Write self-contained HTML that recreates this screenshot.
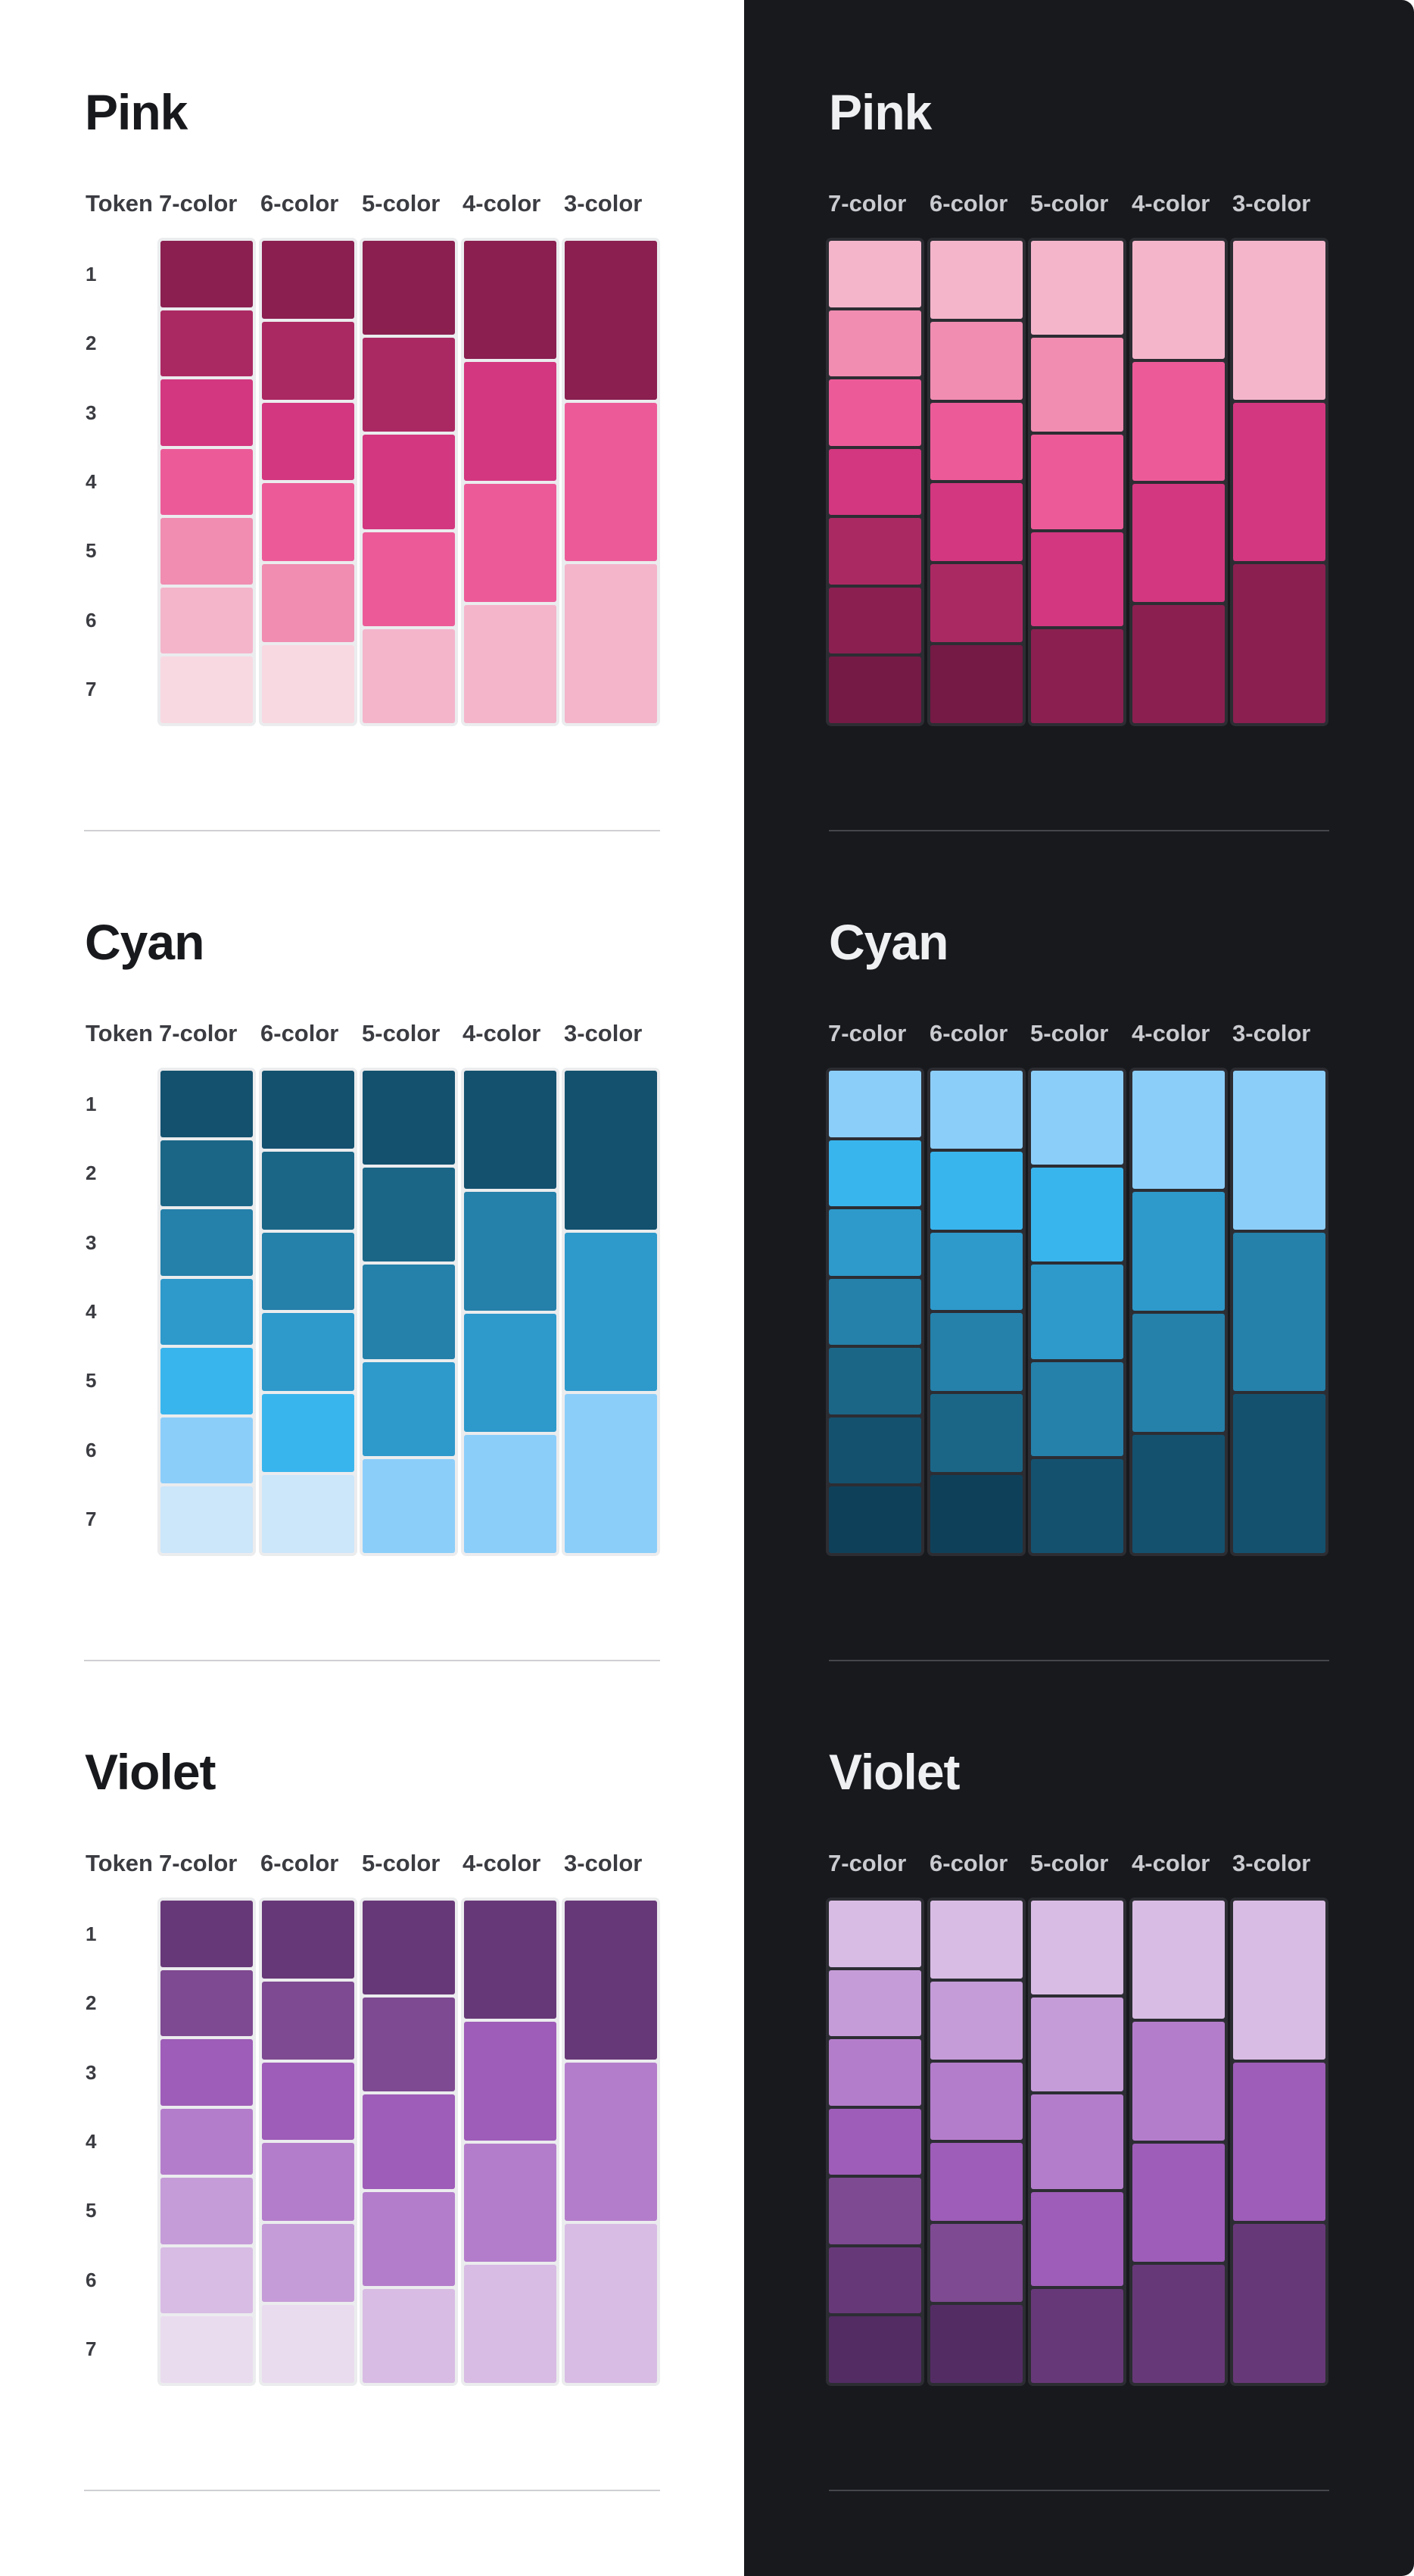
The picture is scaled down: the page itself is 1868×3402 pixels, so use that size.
<!DOCTYPE html>
<html><head><meta charset="utf-8">
<style>
*{margin:0;padding:0;box-sizing:border-box}
body{width:1868px;height:3402px;background:#fff;position:relative;overflow:hidden;font-family:"Liberation Sans",sans-serif;font-weight:bold}
.dark{position:absolute;left:983px;top:0;width:885px;height:3402px;background:#18191d;border-radius:0 16px 16px 0}
.sec{position:absolute;left:0;width:1868px;height:1096px}
.t{position:absolute;font-size:66px;line-height:66px;top:115px;letter-spacing:-1px}
.h{position:absolute;font-size:31px;line-height:31px;top:253px}
.grid{position:absolute;top:314px;height:645px;display:flex;gap:3.5px}
.col{width:130px;height:645px;padding:4px;display:flex;flex-direction:column;gap:4px;border-radius:7px}
.col div{flex:1;border-radius:3px}
.L .col{background:#ebecee}
.D .col{background:#2c2d33}
.L .t{color:#18191d;left:112px}
.D .t{color:#eff0f2;left:1095px}
.L .h{color:#3b3c42}
.D .h{color:#c9cbd0}
.L .grid{left:208px}
.D .grid{left:1091px}
.rl{position:absolute;left:113px;top:317px;height:639px;display:flex;flex-direction:column;color:#3b3c42;font-size:26px}
.rl span{flex:1;display:flex;align-items:center}
.div{position:absolute;top:1096px;height:2px}
.L .div{left:111px;width:761px;background:#cfd0d3}
.D .div{left:1095px;width:661px;background:#45464c}
</style></head><body>
<div class="dark"></div>

<!-- PINK -->
<div class="sec L" style="top:0">
<div class="t">Pink</div>
<div class="h" style="left:113px">Token</div><div class="h" style="left:210px">7-color</div><div class="h" style="left:344px">6-color</div><div class="h" style="left:478px">5-color</div><div class="h" style="left:611px">4-color</div><div class="h" style="left:745px">3-color</div>
<div class="rl"><span>1</span><span>2</span><span>3</span><span>4</span><span>5</span><span>6</span><span>7</span></div>
<div class="grid">
<div class="col"><div style="background:#8a1f50"></div><div style="background:#ab2963"></div><div style="background:#d3377f"></div><div style="background:#ec5b98"></div><div style="background:#f08db1"></div><div style="background:#f4b5cb"></div><div style="background:#f8d9e2"></div></div>
<div class="col"><div style="background:#8a1f50"></div><div style="background:#ab2963"></div><div style="background:#d3377f"></div><div style="background:#ec5b98"></div><div style="background:#f08db1"></div><div style="background:#f8d9e2"></div></div>
<div class="col"><div style="background:#8a1f50"></div><div style="background:#ab2963"></div><div style="background:#d3377f"></div><div style="background:#ec5b98"></div><div style="background:#f4b5cb"></div></div>
<div class="col"><div style="background:#8a1f50"></div><div style="background:#d3377f"></div><div style="background:#ec5b98"></div><div style="background:#f4b5cb"></div></div>
<div class="col"><div style="background:#8a1f50"></div><div style="background:#ec5b98"></div><div style="background:#f4b5cb"></div></div>
</div>
<div class="div"></div>
</div>
<div class="sec D" style="top:0">
<div class="t">Pink</div>
<div class="h" style="left:1094px">7-color</div><div class="h" style="left:1228px">6-color</div><div class="h" style="left:1361px">5-color</div><div class="h" style="left:1495px">4-color</div><div class="h" style="left:1628px">3-color</div>
<div class="grid">
<div class="col"><div style="background:#f4b5cb"></div><div style="background:#f08db1"></div><div style="background:#ec5b98"></div><div style="background:#d3377f"></div><div style="background:#ab2963"></div><div style="background:#8a1f50"></div><div style="background:#741a45"></div></div>
<div class="col"><div style="background:#f4b5cb"></div><div style="background:#f08db1"></div><div style="background:#ec5b98"></div><div style="background:#d3377f"></div><div style="background:#ab2963"></div><div style="background:#741a45"></div></div>
<div class="col"><div style="background:#f4b5cb"></div><div style="background:#f08db1"></div><div style="background:#ec5b98"></div><div style="background:#d3377f"></div><div style="background:#8a1f50"></div></div>
<div class="col"><div style="background:#f4b5cb"></div><div style="background:#ec5b98"></div><div style="background:#d3377f"></div><div style="background:#8a1f50"></div></div>
<div class="col"><div style="background:#f4b5cb"></div><div style="background:#d3377f"></div><div style="background:#8a1f50"></div></div>
</div>
<div class="div"></div>
</div>

<!-- CYAN -->
<div class="sec L" style="top:1096px">
<div class="t">Cyan</div>
<div class="h" style="left:113px">Token</div><div class="h" style="left:210px">7-color</div><div class="h" style="left:344px">6-color</div><div class="h" style="left:478px">5-color</div><div class="h" style="left:611px">4-color</div><div class="h" style="left:745px">3-color</div>
<div class="rl"><span>1</span><span>2</span><span>3</span><span>4</span><span>5</span><span>6</span><span>7</span></div>
<div class="grid">
<div class="col"><div style="background:#14516f"></div><div style="background:#1b6687"></div><div style="background:#2580aa"></div><div style="background:#2e99cb"></div><div style="background:#39b5ed"></div><div style="background:#8ccefa"></div><div style="background:#cce6fa"></div></div>
<div class="col"><div style="background:#14516f"></div><div style="background:#1b6687"></div><div style="background:#2580aa"></div><div style="background:#2e99cb"></div><div style="background:#39b5ed"></div><div style="background:#cce6fa"></div></div>
<div class="col"><div style="background:#14516f"></div><div style="background:#1b6687"></div><div style="background:#2580aa"></div><div style="background:#2e99cb"></div><div style="background:#8ccefa"></div></div>
<div class="col"><div style="background:#14516f"></div><div style="background:#2580aa"></div><div style="background:#2e99cb"></div><div style="background:#8ccefa"></div></div>
<div class="col"><div style="background:#14516f"></div><div style="background:#2e99cb"></div><div style="background:#8ccefa"></div></div>
</div>
<div class="div"></div>
</div>
<div class="sec D" style="top:1096px">
<div class="t">Cyan</div>
<div class="h" style="left:1094px">7-color</div><div class="h" style="left:1228px">6-color</div><div class="h" style="left:1361px">5-color</div><div class="h" style="left:1495px">4-color</div><div class="h" style="left:1628px">3-color</div>
<div class="grid">
<div class="col"><div style="background:#8ccefa"></div><div style="background:#39b5ed"></div><div style="background:#2e99cb"></div><div style="background:#2580aa"></div><div style="background:#1b6687"></div><div style="background:#14516f"></div><div style="background:#0f4059"></div></div>
<div class="col"><div style="background:#8ccefa"></div><div style="background:#39b5ed"></div><div style="background:#2e99cb"></div><div style="background:#2580aa"></div><div style="background:#1b6687"></div><div style="background:#0f4059"></div></div>
<div class="col"><div style="background:#8ccefa"></div><div style="background:#39b5ed"></div><div style="background:#2e99cb"></div><div style="background:#2580aa"></div><div style="background:#14516f"></div></div>
<div class="col"><div style="background:#8ccefa"></div><div style="background:#2e99cb"></div><div style="background:#2580aa"></div><div style="background:#14516f"></div></div>
<div class="col"><div style="background:#8ccefa"></div><div style="background:#2580aa"></div><div style="background:#14516f"></div></div>
</div>
<div class="div"></div>
</div>

<!-- VIOLET -->
<div class="sec L" style="top:2192px">
<div class="t">Violet</div>
<div class="h" style="left:113px">Token</div><div class="h" style="left:210px">7-color</div><div class="h" style="left:344px">6-color</div><div class="h" style="left:478px">5-color</div><div class="h" style="left:611px">4-color</div><div class="h" style="left:745px">3-color</div>
<div class="rl"><span>1</span><span>2</span><span>3</span><span>4</span><span>5</span><span>6</span><span>7</span></div>
<div class="grid">
<div class="col"><div style="background:#673878"></div><div style="background:#7e4a91"></div><div style="background:#9e5db8"></div><div style="background:#b47dcb"></div><div style="background:#c59cd8"></div><div style="background:#d8bce4"></div><div style="background:#eadcef"></div></div>
<div class="col"><div style="background:#673878"></div><div style="background:#7e4a91"></div><div style="background:#9e5db8"></div><div style="background:#b47dcb"></div><div style="background:#c59cd8"></div><div style="background:#eadcef"></div></div>
<div class="col"><div style="background:#673878"></div><div style="background:#7e4a91"></div><div style="background:#9e5db8"></div><div style="background:#b47dcb"></div><div style="background:#d8bce4"></div></div>
<div class="col"><div style="background:#673878"></div><div style="background:#9e5db8"></div><div style="background:#b47dcb"></div><div style="background:#d8bce4"></div></div>
<div class="col"><div style="background:#673878"></div><div style="background:#b47dcb"></div><div style="background:#d8bce4"></div></div>
</div>
<div class="div"></div>
</div>
<div class="sec D" style="top:2192px">
<div class="t">Violet</div>
<div class="h" style="left:1094px">7-color</div><div class="h" style="left:1228px">6-color</div><div class="h" style="left:1361px">5-color</div><div class="h" style="left:1495px">4-color</div><div class="h" style="left:1628px">3-color</div>
<div class="grid">
<div class="col"><div style="background:#d8bce4"></div><div style="background:#c59cd8"></div><div style="background:#b47dcb"></div><div style="background:#9e5db8"></div><div style="background:#7e4a91"></div><div style="background:#673878"></div><div style="background:#532c63"></div></div>
<div class="col"><div style="background:#d8bce4"></div><div style="background:#c59cd8"></div><div style="background:#b47dcb"></div><div style="background:#9e5db8"></div><div style="background:#7e4a91"></div><div style="background:#532c63"></div></div>
<div class="col"><div style="background:#d8bce4"></div><div style="background:#c59cd8"></div><div style="background:#b47dcb"></div><div style="background:#9e5db8"></div><div style="background:#673878"></div></div>
<div class="col"><div style="background:#d8bce4"></div><div style="background:#b47dcb"></div><div style="background:#9e5db8"></div><div style="background:#673878"></div></div>
<div class="col"><div style="background:#d8bce4"></div><div style="background:#9e5db8"></div><div style="background:#673878"></div></div>
</div>
<div class="div"></div>
</div>
</body></html>
